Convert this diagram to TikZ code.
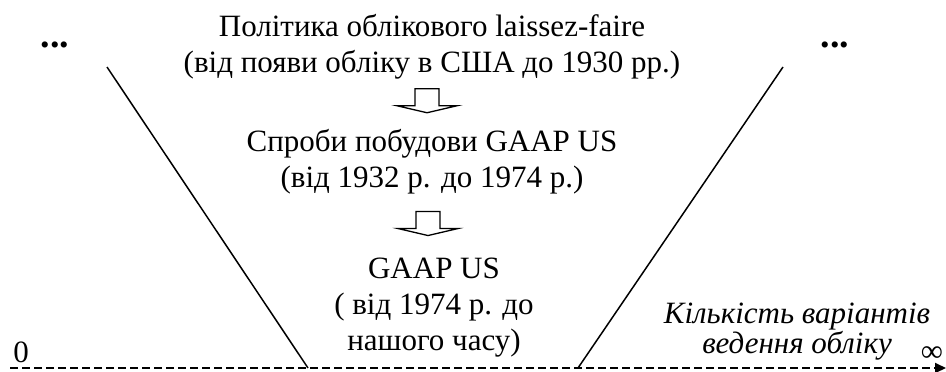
\documentclass[tikz,border=0pt]{standalone}
\usepackage{fontspec}
\setmainfont{Liberation Serif}
\usetikzlibrary{arrows.meta, calc}

\tikzset{
  era/.style={align=center, anchor=base, inner sep=0pt, font=\fontsize{31}{36}\selectfont},
  axislabel/.style={anchor=base, inner sep=0pt, font=\fontsize{31}{26}\selectfont},
  hollowdown/.pic={
    \draw[line width=1.3pt, line join=miter, fill=white]
      (-12,-12) -- (12,-12) -- (12,5) -- (30,5) -- (0,12) -- (-30,5) -- (-12,5) -- cycle;
  }
}

\begin{document}
\begin{tikzpicture}[x=1pt, y=-1pt]
  \useasboundingbox (0,0) rectangle (946,372);

  % stages (base = last line)
  \node[era] (era1) at (432,72) {Політика облікового laissez-faire\\(від появи обліку в США до 1930 рр.)};
  \node[era] (era2) at (432,187) {Спроби побудови GAAP US\\(від 1932 р. до 1974 р.)};
  \node[era] (era3) at (434,350) {GAAP US\\( від 1974 р. до\\нашого часу)};

  \pic at ($(era1.south)!0.5!(era2.north)+(-5,-3)$) {hollowdown};
  \pic at ($(era2.south)!0.5!(era3.north)+(-5,-2)$) {hollowdown};

  % funnel sides
  \coordinate (ltop) at (107,67);
  \coordinate (lbot) at (308,368);
  \coordinate (rtop) at (783,67);
  \coordinate (rbot) at (578,368);
  \draw[line width=1.5pt] (ltop) -- (lbot);
  \draw[line width=1.5pt] (rtop) -- (rbot);

  \node[era, font=\fontsize{38}{36}\selectfont\bfseries] (ldots) at (55,47) {...};
  \node[era, font=\fontsize{38}{36}\selectfont\bfseries] (rdots) at (835,47) {...};

  % axis
  \coordinate (origin) at (10,368);
  \coordinate (axisend) at (946,368);
  \draw[line width=2pt, dash pattern=on 7.5pt off 4.5pt, -{Triangle[length=11pt, width=10pt]}] (origin) -- (axisend);
  \node[axislabel] (zero) at (21,362) {0};
  \node[axislabel] (inf) at (932,361) {∞};
  \node[axislabel, align=center, font=\fontsize{31}{26}\selectfont\itshape] (count) at (797,353) {Кількість варіантів\\ведення обліку};
\end{tikzpicture}
\end{document}
